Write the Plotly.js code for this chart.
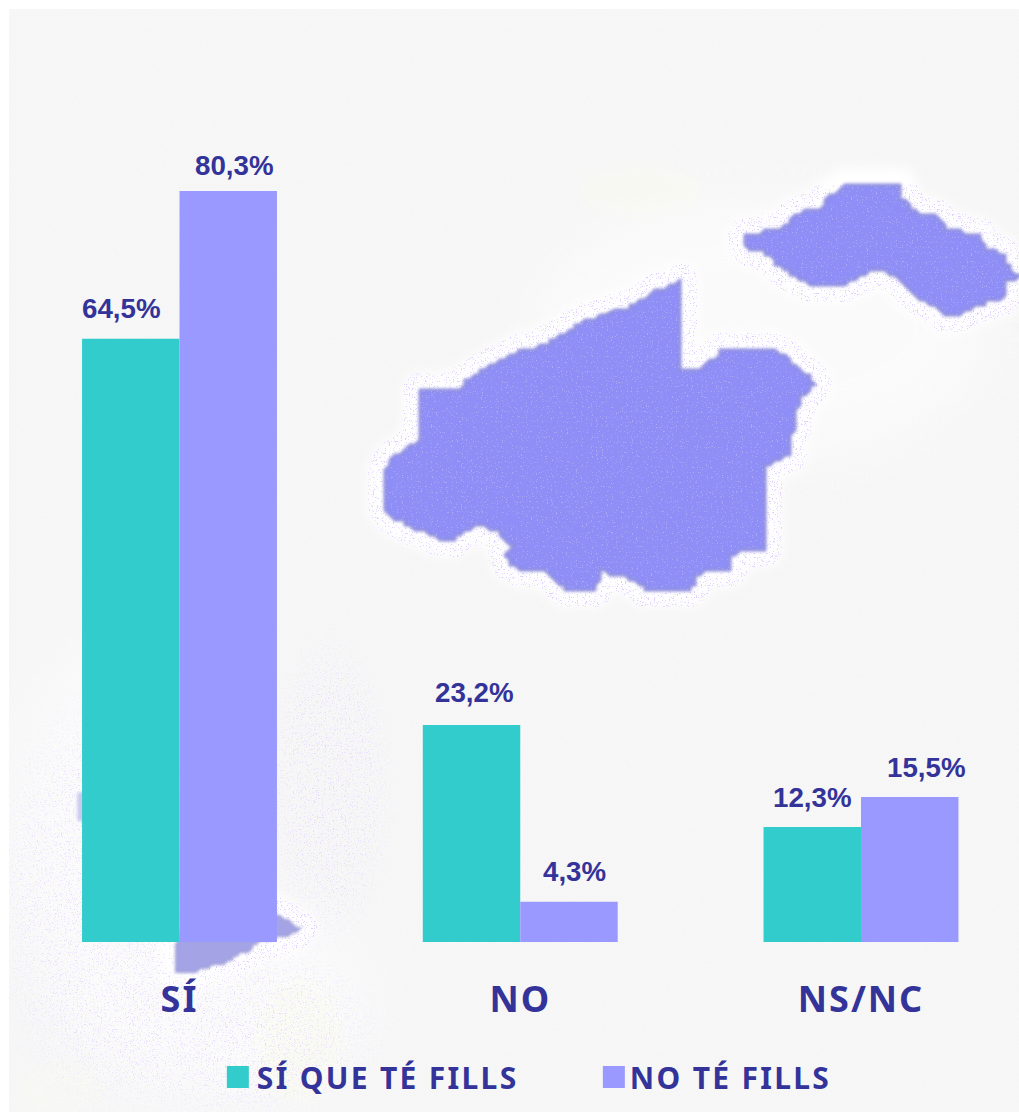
<!DOCTYPE html>
<html>
<head>
<meta charset="utf-8">
<script src="https://cdn.plot.ly/plotly-3.0.1.min.js"></script>
<style>
html,body{margin:0;padding:0;background:#fff;overflow:hidden}
.legendtext{letter-spacing:2.3px}
.xtick text{letter-spacing:2px}
</style>
</head>
<body>
<div id="chart" style="width:1019px;height:1112px"></div>
<script>
// ---- data ----
const categories = ['SÍ', 'NO', 'NS/NC'];
const seriesNames = ['SÍ QUE TÉ FILLS', 'NO TÉ FILLS'];
const siQueTeFills = [64.5, 23.2, 12.3];
const noTeFills = [80.3, 4.3, 15.5];
const labelsSi = ['64,5%', '23,2%', '12,3%'];
const labelsNo = ['80,3%', '4,3%', '15,5%'];

// ---- label nudges in px ----
const nudgeXSi = [-9, 3, 0];
const nudgeXNo = [6, 6, 17];
const nudgeYSi = [30, 33, 29];
const nudgeYNo = [26, 30, 30];

// ---- decorative map background (pixel outlines of the islands) ----
const fromZoom1 = p => [370 + p[0] / 2.416, 170 + p[1] / 3];
const fromZoom2 = p => [p[0] / 3, 760 + p[1] / 3];
const bigIsland = [[120,660],[215,655],[270,600],[345,550],[430,525],[490,475],[560,430],[625,420],[680,370],[745,335],[752,600],[800,595],[850,545],[980,540],[1030,590],[1075,640],[1040,680],[1030,740],[1010,850],[960,890],[955,1140],[870,1150],[865,1200],[790,1210],[775,1265],[680,1262],[620,1215],[560,1205],[545,1262],[475,1262],[430,1210],[360,1195],[325,1160],[345,1130],[300,1075],[250,1065],[190,1115],[120,1080],[70,1050],[35,1020],[35,900],[60,860],[120,815]].map(fromZoom1);
const northIsland = [[905,195],[990,180],[1030,135],[1085,115],[1130,60],[1160,40],[1275,45],[1280,85],[1320,125],[1370,140],[1400,185],[1475,190],[1485,240],[1535,250],[1545,305],[1580,315],[1540,335],[1535,380],[1470,405],[1415,440],[1350,405],[1300,355],[1265,310],[1215,300],[1180,320],[1130,350],[1085,350],[1030,320],[990,290],[950,240],[905,230]].map(fromZoom1);
const southIsland = [[600,400],[830,465],[870,490],[905,505],[870,520],[780,545],[740,570],[680,605],[600,625],[570,640],[525,630],[535,540]].map(fromZoom2);
const westIsland = [[300,80],[232,100],[232,180],[300,200]].map(fromZoom2);
// blocky outline, like the enlarged low-resolution map in the reference
const blocky = (pts, g) => {
  const out = [];
  pts.forEach((a, i) => {
    const b = pts[(i + 1) % pts.length];
    const n = Math.max(1, Math.round(Math.hypot(b[0] - a[0], b[1] - a[1]) / g));
    for (let k = 0; k < n; k++) {
      out.push([Math.round((a[0] + (b[0] - a[0]) * k / n) / g) * g, Math.round((a[1] + (b[1] - a[1]) * k / n) / g) * g]);
    }
  });
  return out;
};
const pathOf = pts => 'M' + pts.map(p => p[0].toFixed(1) + ',' + p[1].toFixed(1)).join('L') + 'Z';
const land = pathOf(blocky(bigIsland, 5)) + pathOf(blocky(northIsland, 5));
const south = pathOf(blocky(southIsland, 4));

const bgSvg = `<svg xmlns="http://www.w3.org/2000/svg" width="1019" height="1112" viewBox="0 0 1019 1112">
<defs>
<radialGradient id="soft"><stop offset="0" stop-color="#fff" stop-opacity="1"/><stop offset="0.6" stop-color="#fff" stop-opacity="0.8"/><stop offset="1" stop-color="#fff" stop-opacity="0"/></radialGradient>
<clipPath id="panel"><rect x="9" y="9" width="1010" height="1103"/></clipPath>
<filter id="b1" x="-5%" y="-5%" width="110%" height="110%"><feGaussianBlur stdDeviation="1.4"/></filter>
<filter id="b8" x="-20%" y="-20%" width="140%" height="140%"><feGaussianBlur stdDeviation="6"/></filter>
<filter id="b40" x="-40%" y="-40%" width="180%" height="180%"><feGaussianBlur stdDeviation="30"/></filter>
<filter id="dots" x="0" y="0" width="100%" height="100%"><feTurbulence type="fractalNoise" baseFrequency="0.75" numOctaves="2" seed="4"/><feColorMatrix values="0 0 0 0 0.74  0 0 0 0 0.62  0 0 0 0 1  0 0 0 10 -6.1"/><feComposite in2="SourceAlpha" operator="in"/></filter>
<filter id="inner" x="0" y="0" width="100%" height="100%"><feTurbulence type="fractalNoise" baseFrequency="0.8" numOctaves="1" seed="9"/><feColorMatrix values="0 0 0 0 0.42  0 0 0 0 0.42  0 0 0 0 0.92  0 0 0 9 -5.6"/><feComposite in2="SourceAlpha" operator="in"/></filter>
<filter id="grain" x="0" y="0" width="100%" height="100%"><feTurbulence type="fractalNoise" baseFrequency="0.5" numOctaves="1" seed="2"/><feColorMatrix values="0 0 0 0 1  0 0 0 0 1  0 0 0 0 1  0 0 0 2 -0.9"/><feComposite in2="SourceAlpha" operator="in"/></filter>
</defs>
<rect x="9" y="9" width="1010" height="1103" fill="#f6f6f6"/>
<rect x="9" y="9" width="1010" height="1103" fill="#fff" opacity="0.35" filter="url(#grain)"/>
<g clip-path="url(#panel)">
<g opacity="0.5">
<ellipse cx="120" cy="830" rx="110" ry="190" fill="#fff" filter="url(#b40)"/>
<ellipse cx="220" cy="1000" rx="150" ry="100" fill="#fff" filter="url(#b40)"/>
<ellipse cx="760" cy="330" rx="230" ry="130" fill="#fff" filter="url(#b40)"/>
</g>
<ellipse cx="300" cy="1040" rx="40" ry="60" fill="#fbfbee" opacity="0.45" filter="url(#b8)"/>
<ellipse cx="640" cy="190" rx="60" ry="22" fill="#fbfbee" opacity="0.4" filter="url(#b8)"/>
<ellipse cx="60" cy="1090" rx="40" ry="22" fill="#fbfbee" opacity="0.3" filter="url(#b8)"/>
<g fill="#fff" stroke="#fff" stroke-width="34" stroke-linejoin="round" filter="url(#b8)">
<path d="${land}"/><path d="${south}"/>
</g>
<g fill="#fff" stroke="#fff" stroke-width="34" stroke-linejoin="round" filter="url(#dots)">
<path d="${land}"/><path d="${south}"/>
</g>
<g filter="url(#dots)" opacity="0.7">
<ellipse cx="100" cy="900" rx="120" ry="230" fill="url(#soft)"/>
<ellipse cx="230" cy="1030" rx="170" ry="100" fill="url(#soft)"/>
<ellipse cx="330" cy="790" rx="70" ry="170" fill="url(#soft)"/>
</g>
</g>
<g filter="url(#b1)">
<path d="${land}" fill="#8e8ef6" stroke="#8f8fdc" stroke-width="3" stroke-linejoin="round"/>
<path d="${south}" fill="#a3a3e6" stroke="#a0a0d8" stroke-width="2"/>
<path d="${pathOf(westIsland)}" fill="#c9c9ee"/>
</g>
<path d="${land}" fill="#8e8ef6" filter="url(#inner)"/>
</svg>`;

const textColor = '#333399';
const colorSi = '#33CCCC';
const colorNo = '#9999FF';
const labelFont = {family: '"Liberation Sans", Arial, sans-serif', size: 27.7, color: textColor, weight: 700};

const barShift = 0.143;
const makeAnn = (vals, labels, side, dx, dy) => vals.map((v, i) => ({
  x: i + side * barShift, y: v, xref: 'x', yref: 'y', text: labels[i], showarrow: false,
  xanchor: 'center', yanchor: 'middle', xshift: dx[i], yshift: dy[i], font: labelFont
}));

const traces = [
  {type: 'bar', name: seriesNames[0], x: [0, 1, 2], y: siQueTeFills, marker: {color: colorSi, line: {width: 0}}, hoverinfo: 'y'},
  {type: 'bar', name: seriesNames[1], x: [0, 1, 2], y: noTeFills, marker: {color: colorNo, line: {width: 0}}, hoverinfo: 'y'}
];

const layout = {
  width: 1019, height: 1112,
  margin: {l: 0, r: 0, t: 0, b: 170, pad: 0},
  paper_bgcolor: '#ffffff', plot_bgcolor: 'rgba(0,0,0,0)',
  barmode: 'group', bargap: 0.428, bargroupgap: 0,
  showlegend: true,
  legend: {
    orientation: 'h', xref: 'container', yref: 'container', x: 0.2128, y: 0.0315,
    xanchor: 'left', yanchor: 'middle', bgcolor: 'rgba(0,0,0,0)', itemwidth: 30,
    entrywidth: 328, entrywidthmode: 'pixels', traceorder: 'normal',
    font: {family: '"Noto Sans", sans-serif', size: 30, color: textColor, weight: 700}
  },
  xaxis: {
    type: 'linear', range: [-0.5268, 2.4637], tickmode: 'array', tickvals: [0, 1, 2], ticktext: categories,
    showgrid: false, zeroline: false, showline: false, ticks: '', ticklabelstandoff: 33,
    tickfont: {family: '"Noto Sans", sans-serif', size: 36, color: textColor, weight: 700}, fixedrange: true
  },
  yaxis: {range: [0, 100.73], visible: false, showgrid: false, zeroline: false, fixedrange: true},
  annotations: makeAnn(siQueTeFills, labelsSi, -1, nudgeXSi, nudgeYSi).concat(makeAnn(noTeFills, labelsNo, 1, nudgeXNo, nudgeYNo)),
  images: [{
    source: 'data:image/svg+xml;charset=utf-8,' + encodeURIComponent(bgSvg),
    xref: 'paper', yref: 'paper', x: 0, y: 1, sizex: 1, sizey: 1112 / 942,
    xanchor: 'left', yanchor: 'top', sizing: 'stretch', layer: 'below'
  }]
};

const swatchNudge = [1, 4];
Plotly.newPlot('chart', traces, layout, {displayModeBar: false, staticPlot: true}).then(() => {
  document.querySelectorAll('.legend .legendpoints path').forEach((p, i) => {
    const n = swatchNudge[i] || 0;
    p.setAttribute('d', `M${11 + n},11H${-11 + n}V-11H${11 + n}Z`);
  });
});
</script>
</body>
</html>
